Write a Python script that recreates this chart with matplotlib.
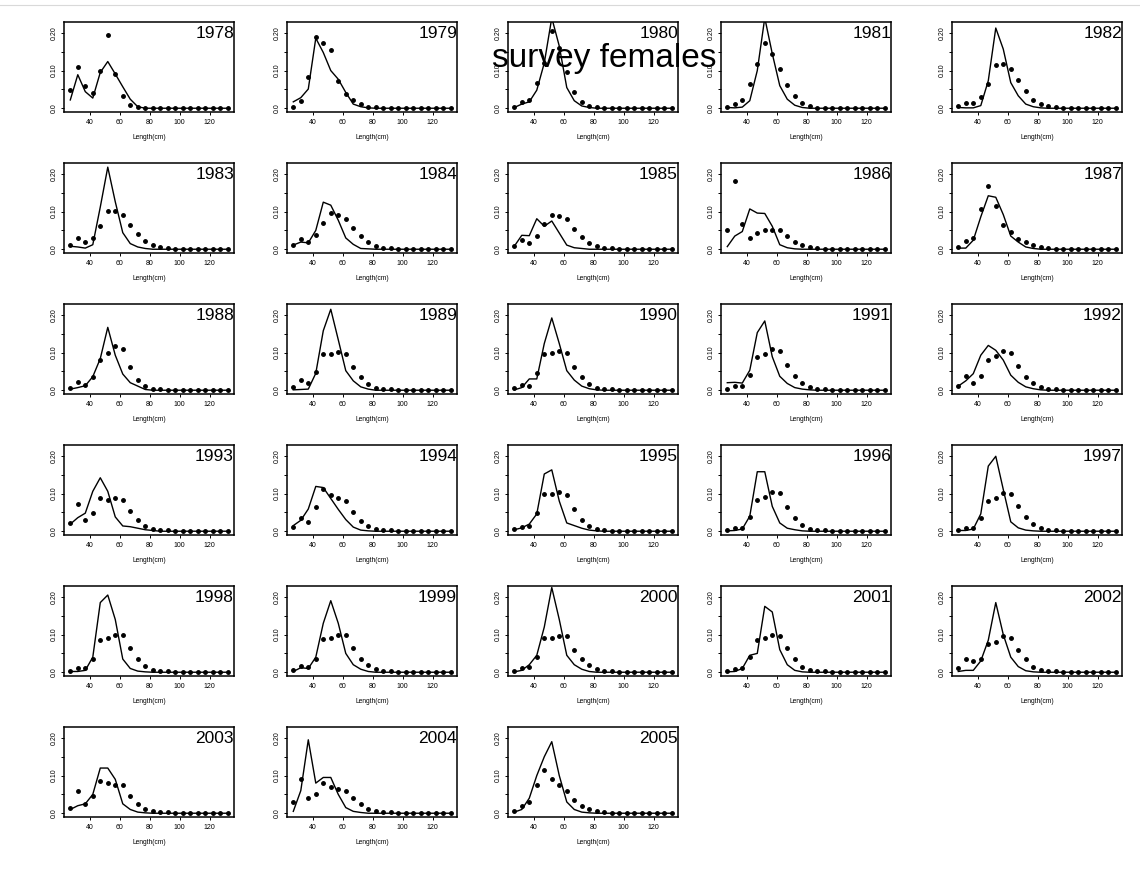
import matplotlib
matplotlib.use("Agg")
import matplotlib.pyplot as plt
from matplotlib.lines import Line2D

plt.rcParams['font.family'] = ['Liberation Sans', 'DejaVu Sans']

# --- DATA ---
# length bins (cm)
length = [27, 32, 37, 42, 47, 52, 57, 62, 67, 72, 77, 82,
          87, 92, 97, 102, 107, 112, 117, 122, 127, 132]
years = list(range(1978, 2006))

# observed proportions (dots) and fitted proportions (line), one list per year
obs_1978 = [0.048, 0.110, 0.060, 0.040, 0.099, 0.194, 0.091, 0.032, 0.009, 0.004, 0.001, 0.001,
            0.001, 0.001, 0.001, 0.001, 0.001, 0.001, 0.001, 0.001, 0.001, 0.001]
fit_1978 = [0.022, 0.089, 0.044, 0.027, 0.095, 0.124, 0.091, 0.057, 0.024, 0.004, 0.000, 0.000,
            0.000, 0.000, 0.000, 0.000, 0.000, 0.000, 0.000, 0.000, 0.000, 0.000]
obs_1979 = [0.004, 0.020, 0.084, 0.188, 0.173, 0.154, 0.073, 0.039, 0.022, 0.010, 0.004, 0.002,
            0.001, 0.001, 0.001, 0.001, 0.001, 0.001, 0.001, 0.001, 0.001, 0.001]
fit_1979 = [0.017, 0.028, 0.051, 0.186, 0.148, 0.100, 0.077, 0.042, 0.011, 0.004, 0.001, 0.000,
            0.000, 0.000, 0.000, 0.000, 0.000, 0.000, 0.000, 0.000, 0.000, 0.000]
obs_1980 = [0.004, 0.017, 0.023, 0.067, 0.120, 0.204, 0.159, 0.095, 0.043, 0.016, 0.006, 0.002,
            0.001, 0.001, 0.001, 0.001, 0.001, 0.001, 0.001, 0.001, 0.001, 0.001]
fit_1980 = [0.002, 0.011, 0.017, 0.048, 0.120, 0.240, 0.165, 0.055, 0.020, 0.006, 0.002, 0.000,
            0.000, 0.000, 0.000, 0.000, 0.000, 0.000, 0.000, 0.000, 0.000, 0.000]
obs_1981 = [0.004, 0.012, 0.021, 0.064, 0.117, 0.172, 0.143, 0.103, 0.062, 0.032, 0.013, 0.005,
            0.001, 0.001, 0.001, 0.001, 0.001, 0.001, 0.001, 0.001, 0.001, 0.001]
fit_1981 = [0.002, 0.001, 0.003, 0.020, 0.100, 0.240, 0.145, 0.060, 0.024, 0.008, 0.002, 0.000,
            0.000, 0.000, 0.000, 0.000, 0.000, 0.000, 0.000, 0.000, 0.000, 0.000]
obs_1982 = [0.005, 0.015, 0.013, 0.030, 0.065, 0.116, 0.117, 0.104, 0.074, 0.045, 0.023, 0.011,
            0.005, 0.002, 0.001, 0.001, 0.001, 0.001, 0.001, 0.001, 0.001, 0.001]
fit_1982 = [0.002, 0.001, 0.001, 0.007, 0.073, 0.213, 0.157, 0.068, 0.033, 0.011, 0.004, 0.001,
            0.000, 0.000, 0.000, 0.000, 0.000, 0.000, 0.000, 0.000, 0.000, 0.000]
obs_1983 = [0.011, 0.031, 0.018, 0.031, 0.061, 0.101, 0.102, 0.090, 0.065, 0.040, 0.022, 0.011,
            0.005, 0.002, 0.001, 0.001, 0.001, 0.001, 0.001, 0.001, 0.001, 0.001]
fit_1983 = [0.008, 0.006, 0.003, 0.012, 0.112, 0.218, 0.126, 0.044, 0.015, 0.006, 0.002, 0.000,
            0.000, 0.000, 0.000, 0.000, 0.000, 0.000, 0.000, 0.000, 0.000, 0.000]
obs_1984 = [0.010, 0.027, 0.019, 0.037, 0.070, 0.095, 0.091, 0.079, 0.057, 0.034, 0.019, 0.009,
            0.004, 0.002, 0.001, 0.001, 0.001, 0.001, 0.001, 0.001, 0.001, 0.001]
fit_1984 = [0.011, 0.019, 0.017, 0.050, 0.125, 0.117, 0.077, 0.030, 0.013, 0.002, 0.001, 0.000,
            0.000, 0.000, 0.000, 0.000, 0.000, 0.000, 0.000, 0.000, 0.000, 0.000]
obs_1985 = [0.009, 0.025, 0.017, 0.036, 0.066, 0.090, 0.089, 0.079, 0.054, 0.032, 0.016, 0.008,
            0.004, 0.002, 0.001, 0.001, 0.001, 0.001, 0.001, 0.001, 0.001, 0.001]
fit_1985 = [0.008, 0.037, 0.036, 0.081, 0.061, 0.075, 0.043, 0.011, 0.004, 0.002, 0.000, 0.000,
            0.000, 0.000, 0.000, 0.000, 0.000, 0.000, 0.000, 0.000, 0.000, 0.000]
obs_1986 = [0.051, 0.181, 0.068, 0.031, 0.042, 0.052, 0.052, 0.050, 0.035, 0.020, 0.011, 0.005,
            0.002, 0.001, 0.001, 0.001, 0.001, 0.001, 0.001, 0.001, 0.001, 0.001]
fit_1986 = [0.007, 0.035, 0.047, 0.107, 0.096, 0.095, 0.061, 0.012, 0.004, 0.001, 0.000, 0.000,
            0.000, 0.000, 0.000, 0.000, 0.000, 0.000, 0.000, 0.000, 0.000, 0.000]
obs_1987 = [0.006, 0.021, 0.030, 0.108, 0.168, 0.114, 0.065, 0.045, 0.028, 0.018, 0.010, 0.005,
            0.002, 0.001, 0.001, 0.001, 0.001, 0.001, 0.001, 0.001, 0.001, 0.001]
fit_1987 = [0.003, 0.003, 0.024, 0.086, 0.142, 0.138, 0.092, 0.035, 0.019, 0.006, 0.002, 0.000,
            0.000, 0.000, 0.000, 0.000, 0.000, 0.000, 0.000, 0.000, 0.000, 0.000]
obs_1988 = [0.007, 0.022, 0.014, 0.036, 0.081, 0.100, 0.117, 0.109, 0.063, 0.027, 0.010, 0.004,
            0.002, 0.001, 0.001, 0.001, 0.001, 0.001, 0.001, 0.001, 0.001, 0.001]
fit_1988 = [0.003, 0.007, 0.012, 0.036, 0.084, 0.167, 0.093, 0.043, 0.020, 0.011, 0.002, 0.000,
            0.000, 0.000, 0.000, 0.000, 0.000, 0.000, 0.000, 0.000, 0.000, 0.000]
obs_1989 = [0.009, 0.027, 0.018, 0.049, 0.096, 0.096, 0.102, 0.096, 0.062, 0.034, 0.016, 0.007,
            0.004, 0.002, 0.001, 0.001, 0.001, 0.001, 0.001, 0.001, 0.001, 0.001]
fit_1989 = [0.001, 0.002, 0.003, 0.045, 0.158, 0.215, 0.134, 0.052, 0.025, 0.009, 0.003, 0.000,
            0.000, 0.000, 0.000, 0.000, 0.000, 0.000, 0.000, 0.000, 0.000, 0.000]
obs_1990 = [0.005, 0.013, 0.012, 0.045, 0.095, 0.098, 0.103, 0.100, 0.063, 0.034, 0.016, 0.007,
            0.003, 0.002, 0.001, 0.001, 0.001, 0.001, 0.001, 0.001, 0.001, 0.001]
fit_1990 = [0.001, 0.007, 0.030, 0.030, 0.124, 0.192, 0.124, 0.052, 0.027, 0.011, 0.004, 0.001,
            0.000, 0.000, 0.000, 0.000, 0.000, 0.000, 0.000, 0.000, 0.000, 0.000]
obs_1991 = [0.004, 0.011, 0.010, 0.040, 0.087, 0.096, 0.109, 0.105, 0.068, 0.037, 0.019, 0.008,
            0.004, 0.002, 0.001, 0.001, 0.001, 0.001, 0.001, 0.001, 0.001, 0.001]
fit_1991 = [0.020, 0.021, 0.019, 0.053, 0.153, 0.184, 0.089, 0.037, 0.018, 0.007, 0.003, 0.001,
            0.000, 0.000, 0.000, 0.000, 0.000, 0.000, 0.000, 0.000, 0.000, 0.000]
obs_1992 = [0.012, 0.038, 0.019, 0.038, 0.081, 0.090, 0.103, 0.100, 0.065, 0.036, 0.018, 0.008,
            0.004, 0.002, 0.001, 0.001, 0.001, 0.001, 0.001, 0.001, 0.001, 0.001]
fit_1992 = [0.011, 0.025, 0.044, 0.093, 0.119, 0.106, 0.080, 0.040, 0.021, 0.009, 0.004, 0.001,
            0.000, 0.000, 0.000, 0.000, 0.000, 0.000, 0.000, 0.000, 0.000, 0.000]
obs_1993 = [0.021, 0.071, 0.031, 0.048, 0.088, 0.084, 0.088, 0.083, 0.054, 0.030, 0.015, 0.007,
            0.003, 0.002, 0.001, 0.001, 0.001, 0.001, 0.001, 0.001, 0.001, 0.001]
fit_1993 = [0.019, 0.036, 0.048, 0.106, 0.142, 0.106, 0.038, 0.014, 0.012, 0.008, 0.004, 0.002,
            0.000, 0.000, 0.000, 0.000, 0.000, 0.000, 0.000, 0.000, 0.000, 0.000]
obs_1994 = [0.011, 0.035, 0.024, 0.064, 0.112, 0.096, 0.088, 0.080, 0.050, 0.027, 0.013, 0.006,
            0.003, 0.002, 0.001, 0.001, 0.001, 0.001, 0.001, 0.001, 0.001, 0.001]
fit_1994 = [0.015, 0.029, 0.059, 0.119, 0.116, 0.087, 0.058, 0.031, 0.011, 0.003, 0.001, 0.000,
            0.000, 0.000, 0.000, 0.000, 0.000, 0.000, 0.000, 0.000, 0.000, 0.000]
obs_1995 = [0.005, 0.011, 0.013, 0.049, 0.100, 0.099, 0.104, 0.096, 0.058, 0.030, 0.014, 0.006,
            0.002, 0.001, 0.001, 0.001, 0.001, 0.001, 0.001, 0.001, 0.001, 0.001]
fit_1995 = [0.004, 0.009, 0.019, 0.046, 0.152, 0.163, 0.080, 0.022, 0.015, 0.008, 0.003, 0.001,
            0.000, 0.000, 0.000, 0.000, 0.000, 0.000, 0.000, 0.000, 0.000, 0.000]
obs_1996 = [0.004, 0.009, 0.008, 0.037, 0.084, 0.090, 0.104, 0.101, 0.065, 0.035, 0.016, 0.007,
            0.004, 0.002, 0.001, 0.001, 0.001, 0.001, 0.001, 0.001, 0.001, 0.001]
fit_1996 = [0.001, 0.002, 0.006, 0.040, 0.158, 0.158, 0.066, 0.022, 0.008, 0.004, 0.001, 0.000,
            0.000, 0.000, 0.000, 0.000, 0.000, 0.000, 0.000, 0.000, 0.000, 0.000]
obs_1997 = [0.004, 0.008, 0.009, 0.036, 0.080, 0.088, 0.101, 0.100, 0.066, 0.038, 0.019, 0.009,
            0.004, 0.002, 0.001, 0.001, 0.001, 0.001, 0.001, 0.001, 0.001, 0.001]
fit_1997 = [0.002, 0.002, 0.006, 0.046, 0.173, 0.199, 0.111, 0.025, 0.009, 0.003, 0.001, 0.000,
            0.000, 0.000, 0.000, 0.000, 0.000, 0.000, 0.000, 0.000, 0.000, 0.000]
obs_1998 = [0.003, 0.012, 0.010, 0.035, 0.085, 0.090, 0.100, 0.100, 0.065, 0.035, 0.017, 0.007,
            0.003, 0.002, 0.001, 0.001, 0.001, 0.001, 0.001, 0.001, 0.001, 0.001]
fit_1998 = [0.002, 0.002, 0.005, 0.040, 0.185, 0.205, 0.140, 0.035, 0.010, 0.003, 0.001, 0.000,
            0.000, 0.000, 0.000, 0.000, 0.000, 0.000, 0.000, 0.000, 0.000, 0.000]
obs_1999 = [0.005, 0.017, 0.015, 0.035, 0.087, 0.090, 0.100, 0.100, 0.065, 0.035, 0.018, 0.008,
            0.003, 0.002, 0.001, 0.001, 0.001, 0.001, 0.001, 0.001, 0.001, 0.001]
fit_1999 = [0.002, 0.012, 0.010, 0.040, 0.130, 0.190, 0.130, 0.050, 0.020, 0.008, 0.002, 0.000,
            0.000, 0.000, 0.000, 0.000, 0.000, 0.000, 0.000, 0.000, 0.000, 0.000]
obs_2000 = [0.004, 0.010, 0.015, 0.040, 0.090, 0.090, 0.095, 0.095, 0.060, 0.035, 0.018, 0.008,
            0.003, 0.002, 0.001, 0.001, 0.001, 0.001, 0.001, 0.001, 0.001, 0.001]
fit_2000 = [0.001, 0.005, 0.020, 0.045, 0.120, 0.225, 0.140, 0.045, 0.020, 0.008, 0.002, 0.000,
            0.000, 0.000, 0.000, 0.000, 0.000, 0.000, 0.000, 0.000, 0.000, 0.000]
obs_2001 = [0.004, 0.008, 0.012, 0.040, 0.085, 0.090, 0.100, 0.095, 0.065, 0.035, 0.015, 0.007,
            0.003, 0.002, 0.001, 0.001, 0.001, 0.001, 0.001, 0.001, 0.001, 0.001]
fit_2001 = [0.001, 0.002, 0.010, 0.045, 0.050, 0.175, 0.160, 0.060, 0.020, 0.005, 0.001, 0.000,
            0.000, 0.000, 0.000, 0.000, 0.000, 0.000, 0.000, 0.000, 0.000, 0.000]
obs_2002 = [0.010, 0.035, 0.030, 0.035, 0.075, 0.080, 0.095, 0.090, 0.060, 0.035, 0.015, 0.007,
            0.003, 0.002, 0.001, 0.001, 0.001, 0.001, 0.001, 0.001, 0.001, 0.001]
fit_2002 = [0.002, 0.005, 0.005, 0.030, 0.085, 0.185, 0.100, 0.040, 0.015, 0.004, 0.001, 0.000,
            0.000, 0.000, 0.000, 0.000, 0.000, 0.000, 0.000, 0.000, 0.000, 0.000]
obs_2003 = [0.015, 0.060, 0.025, 0.045, 0.085, 0.080, 0.075, 0.075, 0.045, 0.025, 0.012, 0.006,
            0.003, 0.002, 0.001, 0.001, 0.001, 0.001, 0.001, 0.001, 0.001, 0.001]
fit_2003 = [0.010, 0.020, 0.025, 0.050, 0.120, 0.120, 0.090, 0.025, 0.010, 0.003, 0.001, 0.000,
            0.000, 0.000, 0.000, 0.000, 0.000, 0.000, 0.000, 0.000, 0.000, 0.000]
obs_2004 = [0.030, 0.090, 0.040, 0.050, 0.080, 0.070, 0.065, 0.060, 0.040, 0.025, 0.012, 0.006,
            0.003, 0.002, 0.001, 0.001, 0.001, 0.001, 0.001, 0.001, 0.001, 0.001]
fit_2004 = [0.005, 0.060, 0.195, 0.080, 0.095, 0.095, 0.050, 0.015, 0.005, 0.002, 0.000, 0.000,
            0.000, 0.000, 0.000, 0.000, 0.000, 0.000, 0.000, 0.000, 0.000, 0.000]
obs_2005 = [0.005, 0.020, 0.030, 0.075, 0.115, 0.090, 0.075, 0.060, 0.035, 0.020, 0.010, 0.005,
            0.002, 0.001, 0.001, 0.001, 0.001, 0.001, 0.001, 0.001, 0.001, 0.001]
fit_2005 = [0.003, 0.010, 0.040, 0.100, 0.150, 0.190, 0.100, 0.030, 0.010, 0.003, 0.001, 0.000,
            0.000, 0.000, 0.000, 0.000, 0.000, 0.000, 0.000, 0.000, 0.000, 0.000]

observed = [obs_1978, obs_1979, obs_1980, obs_1981, obs_1982, obs_1983, obs_1984,
            obs_1985, obs_1986, obs_1987, obs_1988, obs_1989, obs_1990, obs_1991,
            obs_1992, obs_1993, obs_1994, obs_1995, obs_1996, obs_1997, obs_1998,
            obs_1999, obs_2000, obs_2001, obs_2002, obs_2003, obs_2004, obs_2005]
fitted = [fit_1978, fit_1979, fit_1980, fit_1981, fit_1982, fit_1983, fit_1984,
          fit_1985, fit_1986, fit_1987, fit_1988, fit_1989, fit_1990, fit_1991,
          fit_1992, fit_1993, fit_1994, fit_1995, fit_1996, fit_1997, fit_1998,
          fit_1999, fit_2000, fit_2001, fit_2002, fit_2003, fit_2004, fit_2005]

# --- LAYOUT (pixels) ---
W, H = 1140, 884
col_left = [64, 287, 508, 721, 952]
row_top = [22, 163, 304, 445, 586, 727]
pw, ph = 170, 90

fig = plt.figure(figsize=(W / 100, H / 100), dpi=100)

# thin grey rule along the top
fig.add_artist(Line2D([0, 1], [1 - 4.5 / H, 1 - 4.5 / H], color="#d9d9d9", lw=0.8))

for i, yr in enumerate(years):
    r, c = divmod(i, 5)
    ax = fig.add_axes([col_left[c] / W, 1 - (row_top[r] + ph) / H, pw / W, ph / H])
    ax.plot(length, fitted[i], color="black", lw=1.0)
    ax.plot(length, observed[i], "o", color="black", ms=2.5)
    ax.set_xlim(22.8, 136.2)
    ax.set_ylim(-0.01, 0.229)
    ax.set_xticks([40, 60, 80, 100, 120])
    ax.set_yticks([0, 0.05, 0.10, 0.15, 0.20])
    ax.set_yticklabels(["0.0", "", "0.10", "", "0.20"])
    ax.tick_params(labelsize=5, length=2.5, width=0.7, pad=2.2, colors="black")
    for lab in ax.get_yticklabels():
        lab.set_rotation(90)
        lab.set_va("center")
    for s in ax.spines.values():
        s.set_linewidth(1.1)
    ax.set_xlabel("Length(cm)", fontsize=4.8, labelpad=6)
    ax.text(1.0, 0.955, str(yr), transform=ax.transAxes, ha="right", va="top", fontsize=12.5)

fig.text(604.5 / W, 1 - 67 / H, "survey females", ha="center", va="baseline", fontsize=24)

plt.savefig("out.png", dpi=100)
